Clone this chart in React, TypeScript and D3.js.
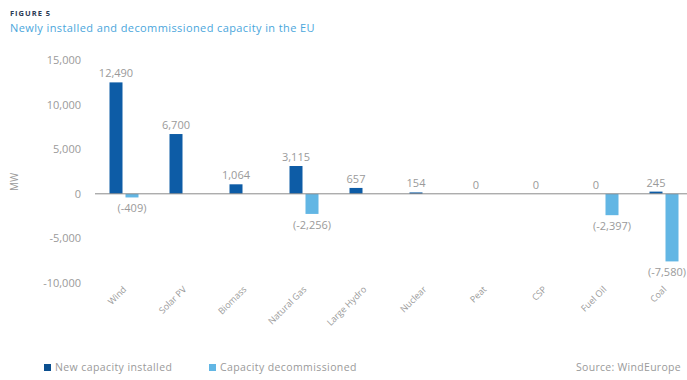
import React from "react";
import * as d3 from "d3";

const categories = ["Wind", "Solar PV", "Biomass", "Natural Gas", "Large Hydro", "Nuclear", "Peat", "CSP", "Fuel Oil", "Coal"];
const installed = [12490, 6700, 1064, 3115, 657, 154, 0, 0, 0, 245];
const decommissioned = [-409, 0, 0, -2256, 0, 0, 0, 0, -2397, -7580];
const installedLabels = ["12,490", "6,700", "1,064", "3,115", "657", "154", "0", "0", "0", "245"];
const decomLabels = ["(-409)", "", "", "(-2,256)", "", "", "", "", "(-2,397)", "(-7,580)"];
const yTicks = [15000, 10000, 5000, 0, -5000, -10000];

const W = 687;
const H = 380;
const DARK = "#0d5ca6";
const LIGHT = "#62b6e4";
const GREY = "#9a9a9a";
const FONT = "'Open Sans', Lato, sans-serif";

export default function App() {
  const x = d3.scaleBand<string>().domain(categories).range([94, 694]);
  const y = d3.scaleLinear().domain([-10000, 15000]).range([283, 60]);
  const fmt = d3.format(",");
  const bw = 13;
  return (
    <svg width={W} height={H} style={{ display: "block", position: "absolute", left: 0, top: 0, background: "#fff" }} fontFamily={FONT}>
      <text x={10} y={16} fontSize={7.5} fontWeight={700} fill="#2b3a55" letterSpacing={1}>FIGURE 5</text>
      <text x={10} y={32} fontSize={11} fill="#4aa6dc" letterSpacing={0.4}>Newly installed and decommissioned capacity in the EU</text>
      <text transform={`translate(18,${y(0) - 12}) rotate(-90)`} fontSize={10} fill={GREY} textAnchor="middle">MW</text>
      {yTicks.map((t) => (
        <text key={t} x={81} y={y(t) + 4} fontSize={11} fill={GREY} textAnchor="end">
          {t < 0 ? "-" + fmt(-t) : fmt(t)}
        </text>
      ))}
      {categories.map((c, i) => {
        const cx = (x(c) as number) + x.bandwidth() / 2;
        const v = installed[i];
        const d = decommissioned[i];
        const dx = cx + 8;
        const nearEdge = dx + 22 > W;
        return (
          <g key={c}>
            {v > 0 && (
              <rect x={cx - 8 - bw / 2} y={y(v)} width={bw} height={Math.max(y(0) - y(v), 1.5)} fill={DARK} />
            )}
            <text x={cx - 8} y={y(v) - 5} fontSize={11} fill={GREY} textAnchor="middle">{installedLabels[i]}</text>
            {d < 0 && (
              <rect x={dx - bw / 2} y={y(0)} width={bw} height={y(d) - y(0)} fill={LIGHT} />
            )}
            {decomLabels[i] && (
              <text x={nearEdge ? W - 1 : dx} y={y(d) + 15} fontSize={11} fill={GREY} textAnchor={nearEdge ? "end" : "middle"}>{decomLabels[i]}</text>
            )}
            <text transform={`translate(${cx + 3},${290}) rotate(-45)`} fontSize={9} fill={GREY} textAnchor="end">{c}</text>
          </g>
        );
      })}
      <line x1={95} x2={W} y1={y(0)} y2={y(0)} stroke="#8a8a8a" strokeWidth={1} />
      <rect x={44} y={364} width={7} height={7} fill="#0b4f8f" />
      <text x={55} y={371} fontSize={10.5} fill={GREY} letterSpacing={0.4}>New capacity installed</text>
      <rect x={209} y={364} width={7} height={7} fill={LIGHT} />
      <text x={220} y={371} fontSize={10.5} fill={GREY} letterSpacing={0.4}>Capacity decommissioned</text>
      <text x={681} y={371} fontSize={10.5} fill={GREY} textAnchor="end" letterSpacing={0.3}>Source: WindEurope</text>
    </svg>
  );
}
